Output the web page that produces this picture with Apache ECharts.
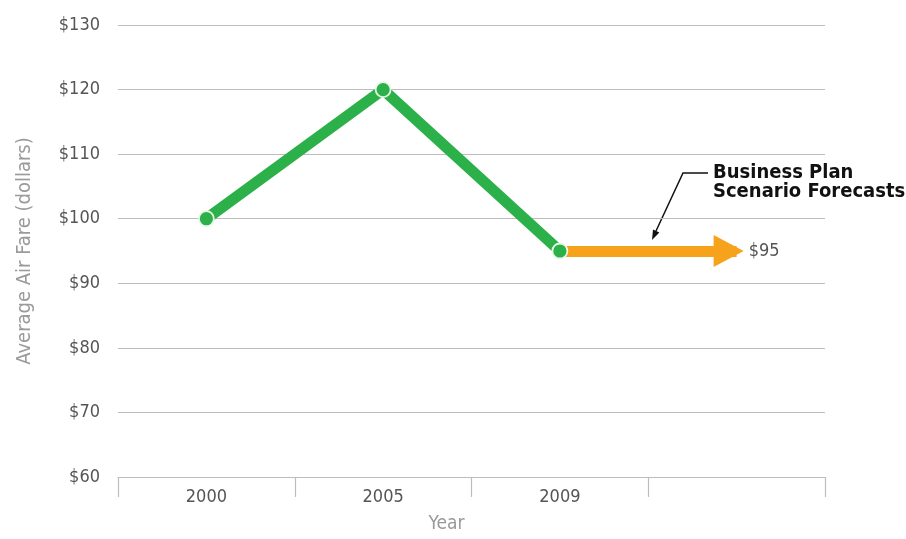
<!DOCTYPE html>
<html>
<head>
<meta charset="utf-8">
<script src="https://cdn.jsdelivr.net/npm/echarts@6/dist/echarts.min.js"></script>
<style>
html,body{margin:0;padding:0;background:#fff;}
#chart{width:906px;height:539px;}
</style>
</head>
<body>
<div id="chart"></div>
<script>
var years = ['2000', '2005', '2009', ''];
var actualFare = [100, 120, 95, null];
var forecastFare = 95;
var forecastFrom = 2; // category index of 2009
var forecastTo = 3;   // forecast slot
var yTicks = { min: 60, max: 130, interval: 10 };
var annotationLines = ['Business Plan', 'Scenario Forecasts'];

var FONT = "'DejaVu Sans Condensed', 'Liberation Sans', sans-serif";
var chart = echarts.init(document.getElementById('chart'), null, { renderer: 'canvas' });

var option = {
  animation: false,
  backgroundColor: '#fff',
  grid: { left: 118, right: 81, top: 25, bottom: 62, containLabel: false },
  xAxis: {
    type: 'category',
    data: years,
    boundaryGap: true,
    name: 'Year',
    nameLocation: 'middle',
    nameGap: 38,
    nameTextStyle: { color: '#999', fontSize: 19, fontFamily: FONT, padding: [0, 50, 0, 0] },
    axisLine: { show: true, lineStyle: { color: '#bdbdbd', width: 1.2 } },
    axisTick: { show: true, length: 20, interval: 0, alignWithLabel: false, lineStyle: { color: '#bdbdbd', width: 1.2 } },
    axisLabel: { color: '#555', fontSize: 18, fontFamily: FONT, margin: 11 },
    splitLine: { show: false }
  },
  yAxis: {
    type: 'value',
    min: yTicks.min,
    max: yTicks.max,
    interval: yTicks.interval,
    name: 'Average Air Fare (dollars)',
    nameLocation: 'middle',
    nameGap: 83,
    nameTextStyle: { color: '#9a9a9a', fontSize: 20, fontFamily: FONT },
    axisLine: { show: false },
    axisTick: { show: false },
    axisLabel: { color: '#555', fontSize: 18, fontFamily: FONT, margin: 18, formatter: function (v) { return '$' + v; } },
    splitLine: { show: true, lineStyle: { color: '#bdbdbd', width: 1.2 } }
  },
  series: [
    {
      type: 'line',
      data: [],
      silent: true,
      markLine: {
        silent: true,
        symbol: ['none', 'triangle'],
        symbolSize: [32, 30],
        symbolOffset: [[0, 0], [0, 8]],
        lineStyle: { color: '#f6a31b', width: 11, type: 'solid' },
        itemStyle: { color: '#f6a31b' },
        label: {
          show: true, position: 'end', distance: 12,
          color: '#555', fontSize: 18, fontFamily: FONT,
          formatter: function (p) { return '$' + p.value; }
        },
        data: [[
          { coord: [forecastFrom, forecastFare], value: forecastFare },
          { coord: [forecastTo, forecastFare] }
        ]]
      },
      z: 2
    },
    {
      type: 'line',
      data: actualFare,
      z: 5,
      lineStyle: { color: '#2cb14a', width: 11 },
      symbol: 'circle',
      symbolSize: 15,
      showAllSymbol: true,
      itemStyle: { color: '#2cb14a', borderColor: '#e6f7e6', borderWidth: 1.8 }
    }
  ],
  graphic: [
    {
      type: 'text', left: 713, top: 163,
      style: { text: annotationLines.join('\n'), fill: '#111', font: '600 20px ' + FONT, lineHeight: 19 }
    },
    {
      type: 'polyline',
      shape: { points: [[708, 173], [683, 173], [656, 231]] },
      style: { stroke: '#111', lineWidth: 1.5, fill: null }
    },
    {
      type: 'polygon',
      shape: { points: [[652, 240], [659.4, 232.4], [653.0, 229.5]] },
      style: { fill: '#111' }
    }
  ]
};
chart.setOption(option);
</script>
</body>
</html>
